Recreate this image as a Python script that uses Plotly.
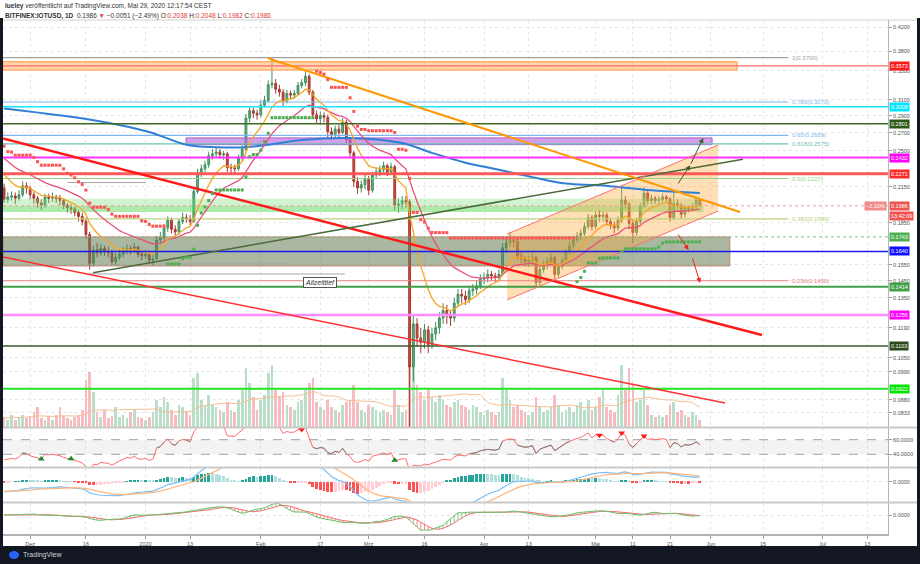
import math
import numpy as np
import pandas as pd
import plotly.graph_objects as go

# ---------------- data ----------------
START = "2019-11-24"
first_open = 0.214
last_open = 0.2038

closes = [0.204,0.206,0.207,0.205,0.208,0.216,0.214,
          0.208,0.205,0.201,0.199,0.206,0.205,0.206,
          0.205,0.203,0.199,0.197,0.196,0.193,0.190,
          0.186,0.176,0.156,0.165,0.163,0.166,0.164,
          0.163,0.157,0.160,0.162,0.164,0.166,0.165,
          0.167,0.162,0.161,0.162,0.158,0.159,0.172,
          0.174,0.181,0.187,0.180,0.178,0.186,0.189,
          0.188,0.186,0.211,0.228,0.232,0.236,0.245,
          0.247,0.249,0.246,0.247,0.233,0.233,0.232,
          0.243,0.252,0.287,0.296,0.293,0.291,0.303,
          0.309,0.330,0.332,0.324,0.320,0.308,0.318,
          0.316,0.318,0.329,0.333,0.342,0.320,0.291,
          0.286,0.290,0.288,0.271,0.268,0.274,0.270,
          0.282,0.262,0.248,0.220,0.214,0.217,0.222,
          0.212,0.226,0.229,0.231,0.235,0.229,0.234,
          0.199,0.200,0.203,0.202,0.101,0.121,0.114,
          0.112,0.118,0.111,0.116,0.119,0.124,0.128,
          0.125,0.124,0.132,0.137,0.136,0.134,0.139,
          0.140,0.142,0.146,0.147,0.149,0.148,0.147,
          0.149,0.1665,0.170,0.172,0.171,0.161,0.159,
          0.157,0.158,0.160,0.144,0.152,0.155,0.157,
          0.160,0.149,0.154,0.158,0.164,0.168,0.172,
          0.175,0.177,0.182,0.189,0.182,0.191,0.190,
          0.191,0.186,0.183,0.181,0.187,0.2035,0.200,
          0.1845,0.1775,0.186,0.1985,0.2095,0.2027,0.205,
          0.203,0.204,0.206,0.2045,0.189,0.2006,0.199,
          0.1917,0.197,0.196,0.198,0.2035,0.1986]

highs = [0.218,0.210,0.211,0.210,0.212,0.220,0.219,
         0.216,0.211,0.207,0.204,0.209,0.209,0.210,
         0.208,0.208,0.205,0.201,0.200,0.198,0.195,
         0.193,0.189,0.178,0.168,0.170,0.169,0.168,
         0.167,0.165,0.163,0.165,0.167,0.169,0.168,
         0.170,0.168,0.164,0.164,0.163,0.162,0.175,
         0.178,0.184,0.190,0.189,0.183,0.188,0.193,
         0.192,0.191,0.214,0.232,0.236,0.240,0.249,
         0.252,0.254,0.252,0.250,0.249,0.237,0.236,
         0.246,0.256,0.292,0.302,0.300,0.297,0.309,
         0.315,0.336,0.370,0.338,0.330,0.324,0.323,
         0.322,0.323,0.334,0.338,0.349,0.345,0.323,
         0.296,0.295,0.294,0.291,0.276,0.278,0.279,
         0.287,0.285,0.265,0.250,0.224,0.221,0.226,
         0.225,0.229,0.233,0.235,0.239,0.237,0.238,
         0.236,0.205,0.207,0.207,0.204,0.126,0.124,
         0.119,0.121,0.120,0.119,0.122,0.127,0.132,
         0.131,0.128,0.135,0.140,0.140,0.139,0.142,
         0.143,0.145,0.149,0.150,0.152,0.151,0.150,
         0.152,0.170,0.174,0.178,0.175,0.173,0.164,
         0.161,0.161,0.163,0.161,0.155,0.158,0.160,
         0.163,0.161,0.156,0.160,0.166,0.171,0.175,
         0.178,0.180,0.185,0.192,0.191,0.194,0.195,
         0.194,0.193,0.189,0.186,0.190,0.215,0.207,
         0.202,0.187,0.189,0.201,0.215,0.212,0.208,
         0.207,0.207,0.209,0.208,0.206,0.212,0.204,
         0.201,0.199,0.199,0.201,0.206,0.2048]

lows = [0.201,0.201,0.203,0.200,0.203,0.206,0.209,
        0.204,0.200,0.197,0.195,0.197,0.201,0.202,
        0.201,0.199,0.196,0.193,0.192,0.190,0.186,
        0.183,0.173,0.152,0.154,0.160,0.161,0.161,
        0.160,0.155,0.155,0.158,0.160,0.162,0.162,
        0.163,0.160,0.158,0.159,0.156,0.155,0.158,
        0.169,0.172,0.178,0.177,0.174,0.176,0.184,
        0.185,0.183,0.185,0.209,0.224,0.229,0.233,
        0.241,0.244,0.242,0.241,0.229,0.228,0.227,
        0.230,0.240,0.250,0.282,0.287,0.285,0.288,
        0.300,0.306,0.325,0.318,0.314,0.302,0.305,
        0.310,0.311,0.315,0.325,0.328,0.316,0.286,
        0.280,0.281,0.282,0.265,0.262,0.264,0.265,
        0.268,0.258,0.244,0.215,0.209,0.210,0.213,
        0.208,0.210,0.222,0.225,0.227,0.225,0.226,
        0.195,0.193,0.196,0.197,0.0785,0.095,0.110,
        0.107,0.109,0.107,0.109,0.113,0.116,0.121,
        0.121,0.120,0.122,0.130,0.132,0.131,0.132,
        0.136,0.137,0.140,0.143,0.144,0.145,0.144,
        0.145,0.148,0.163,0.167,0.167,0.158,0.156,
        0.154,0.154,0.155,0.141,0.142,0.150,0.152,
        0.155,0.146,0.147,0.152,0.156,0.162,0.166,
        0.170,0.172,0.175,0.180,0.179,0.180,0.186,
        0.186,0.183,0.180,0.177,0.179,0.185,0.196,
        0.180,0.170,0.175,0.184,0.197,0.200,0.200,
        0.200,0.200,0.201,0.201,0.186,0.187,0.196,
        0.188,0.189,0.193,0.194,0.196,0.1982]

volumes = [4,3,5,3,4,5,3.5,
           4.5,6,8,3.5,3,4.5,3,
           5,8,4.5,3.5,3,4,5,
           7,19,22.5,14,6,4,7,
           3.5,4.5,8,4,5,3.5,6,
           7,4,3.5,3,4,6,11,
           8,12,10,7,5,9,8,
           6,5,20,22,11,9,13,
           9,8,7,6,10,7,6,
           11,15,24,18,12,7,11,
           13,22,25,15,12,14,9,
           8,7,10,11,15,18,20,
           10,8,7,11,8,7,6,
           9,10,11,17,10,7,6,
           9,8,7,6,7,6,5,
           15,9,6,7,40,35,17,
           14,11,15,12,10,13,11,
           9,8,10,11,9,8,7,
           9,8,6,5,7,6,5,
           6,20,15,11,8,9,7,
           6,5,6,12,8,6,7,
           8,13,9,6,7,8,6,
           9,10,7,11,7,8,12,
           16,8,7,6,13,25,15,
           24,18,10,11,15,9,5,
           4,5,4,5,9,10,6,
           7,5,4,6,5,3]

# long moving average (blue)
ma_blue_dates = ["2019-11-24","2019-12-20","2020-01-02","2020-01-12","2020-01-20","2020-01-28",
                 "2020-02-03","2020-02-12","2020-02-25","2020-03-10","2020-03-18","2020-03-27",
                 "2020-04-05","2020-04-14","2020-04-23","2020-05-02","2020-05-16","2020-05-29"]
ma_blue_vals = [0.2987,0.283,0.2707,0.2566,0.2539,0.2539,
                0.2566,0.2617,0.264,0.2585,0.248,0.238,
                0.231,0.224,0.218,0.2165,0.212,0.2096]

ema_fast_len, ema_fast_seed = 9, 0.232
ema_slow_len, ema_slow_seed = 21, 0.246
macd_seeds = (0.2125, 0.2222, -0.0085)
rsi_seeds = (0.0025, 0.0045)
st_atr_seed = 0.015

# axes
X_START, X_END = "2019-11-23 17:00", "2020-07-18 14:00"
P_MIN, P_MAX = 0.0785, 0.4331
tick_dates = ["2019-12-01","2019-12-16","2020-01-01","2020-01-13","2020-02-01","2020-02-17",
              "2020-03-01","2020-03-16","2020-04-01","2020-04-13","2020-05-01","2020-05-11",
              "2020-05-21","2020-06-01","2020-06-15","2020-07-01","2020-07-13"]
tick_labels = ["Dez","16","2020","13","Feb","17","Mrz","16","Apr","13","Mai","11","21","Jun","15","Jul","13"]
price_ticks = [0.42,0.38,0.35,0.31,0.29,0.27,0.25,0.215,0.185,0.155,0.145,0.135,0.119,0.105,0.099,0.088,0.0833,0.0784]

# horizontal levels with axis labels
level_prices = [0.3573,0.3008,0.2801,0.2432,0.2271,0.1743,0.1640,0.1414,0.1256,0.1103,0.0922]
level_colors = ['#ff6a6a','#19e6ff','#3d6b25','#ff33ff','#ff5a5a','#7cc47f','#1a1aee','#3f9e48','#ff8cff','#3a5a28','#22e622']
level_widths = [1.2,1.5,1.5,2,3,1,1.5,2,2.5,1.5,2]
level_dash = ['solid','solid','solid','solid','solid','dot','solid','solid','solid','solid','solid']
level_label_bg = ['#ff1a1a','#00e5ff','#2e5a17','#ff00ff','#ff2b2b','#4caf50','#0d0dff','#43a047','#ff00ff','#2a4a1a','#00e600']

# fibonacci retracement
fib_ratios = ["1","0.786","0.65","0.618","0.5","0.382","0.236"]
fib_prices = [0.37,0.307,0.2669,0.2575,0.2227,0.188,0.145]
fib_colors = ['#a0a0a0','#7db8ee','#7db8ee','#6cc2b5','#95d28d','#b9d47e','#ea8080']
FIB_END, FIB_LABEL_X = "2020-06-21 19:00", "2020-06-22 07:00"

# zones (start date, end date, low, high)
zone_orange = ("2019-11-23 17:00","2020-06-08",0.3511,0.3636)
zone_purple = ("2020-01-11 22:00","2020-06-01 07:00",0.2567,0.2641)
zone_green_a = ("2019-11-23 17:00","2020-05-29 22:00",0.1985,0.2045)
zone_green_b = ("2019-11-23 17:00","2020-05-29 22:00",0.1935,0.1985)
zone_grey = ("2019-11-23 17:00","2020-06-06 02:00",0.1543,0.1743)

# trendlines (date, price) pairs
tl_red_thick = (["2019-11-23 17:00","2020-06-14 17:00"],[0.2634,0.1155])
tl_red_thin = (["2019-11-23 17:00","2020-06-04 19:00"],[0.1602,0.0868])
tl_olive = (["2019-12-17 22:00","2020-06-09 14:00"],[0.1500,0.2415])
tl_orange = (["2020-02-02 22:00","2020-06-08 19:00"],[0.3688,0.1935])
chan_dates = ["2020-04-07 05:00","2020-06-02 22:00"]
chan_upper = [0.1764,0.2563]
chan_lower = [0.1338,0.1943]
grey_marks = [(["2019-12-16","2020-02-23 14:00"],0.1492),
              (["2020-01-05","2020-02-09"],0.1558),
              (["2019-12-11","2020-01-01"],0.219)]

arrows_green = [("2020-05-22 22:00",0.2167,"2020-05-26 10:00",0.2355),
                ("2020-05-26 10:00",0.2355,"2020-05-29 22:00",0.2640)]
arrows_red = [("2020-05-22 22:00",0.1772,"2020-05-26 00:00",0.1650),
              ("2020-05-26 22:00",0.1603,"2020-05-29 02:00",0.1437)]

rsi_up_signals = [10,18,105]
rsi_down_signals = [80,160,166,172]

# ---------------- computations ----------------
N = len(closes)
assert len(highs) == N and len(lows) == N and len(volumes) == N
dates = pd.date_range(START, periods=N, freq="D")
opens = [first_open] + closes[:-1]
opens[-1] = last_open
c = np.array(closes)

def ema(vals, n, seed):
    a = 2.0 / (n + 1)
    out, e = [], seed
    for v in vals:
        e = e + a * (v - e)
        out.append(e)
    return np.array(out)

def sma(x, n):
    return np.array([np.mean(x[max(0, i - n + 1):i + 1]) for i in range(len(x))])

ema_fast = ema(closes, ema_fast_len, ema_fast_seed)
ema_slow = ema(closes, ema_slow_len, ema_slow_seed)

# RSI (Wilder)
ag, al = rsi_seeds
rsi = []
prev = first_open
for v in closes:
    ch = v - prev
    ag = (ag * 13 + max(ch, 0)) / 14
    al = (al * 13 + max(-ch, 0)) / 14
    rsi.append(100 - 100 / (1 + ag / al))
    prev = v
rsi = np.array(rsi)

# MACD
e12 = ema(closes, 12, macd_seeds[0])
e26 = ema(closes, 26, macd_seeds[1])
macd = e12 - e26
sig = ema(macd, 9, macd_seeds[2])
hist = macd - sig

# momentum oscillator (price units) with signal
mom = np.array([c[i] - c[max(0, i - 10)] for i in range(N)])
osc = sma(mom, 4)
osc_sig = sma(osc, 6)

# SuperTrend (10, 3)
atr = st_atr_seed
prev_c = first_open
up_p = dn_p = None
trend = -1
st_g_x, st_g_y, st_r_x, st_r_y = [], [], [], []
for i in range(N):
    tr = max(highs[i] - lows[i], abs(highs[i] - prev_c), abs(lows[i] - prev_c))
    atr = (atr * 9 + tr) / 10
    hl2 = (highs[i] + lows[i]) / 2
    up = hl2 - 3 * atr
    dn = hl2 + 3 * atr
    if up_p is not None:
        up = max(up, up_p) if prev_c > up_p else up
        dn = min(dn, dn_p) if prev_c < dn_p else dn
        if trend == -1 and closes[i] > dn_p:
            trend = 1
        elif trend == 1 and closes[i] < up_p:
            trend = -1
    if trend == 1:
        st_g_x.append(dates[i]); st_g_y.append(up)
    else:
        st_r_x.append(dates[i]); st_r_y.append(dn)
    up_p, dn_p, prev_c = up, dn, closes[i]

vol_ma = sma(np.array(volumes, dtype=float), 20)

# ---------------- figure ----------------
PX_L, PX_R, PX_T, PX_B = 3, 888, 20, 534
def fx(px): return (px - PX_L) / (PX_R - PX_L)
def fy(py): return (PX_B - py) / (PX_B - PX_T)

FONT = "Liberation Sans"
fig = go.Figure()

# volume (base axis of main pane)
vcol = ['#b9dfc8' if closes[i] >= opens[i] else '#f6bcc0' for i in range(N)]
fig.add_trace(go.Bar(x=dates, y=volumes, marker=dict(color=vcol, line=dict(width=0)),
                     width=0.72 * 86400000, yaxis='y', xaxis='x'))
fig.add_trace(go.Scatter(x=dates, y=vol_ma, mode='lines', line=dict(color='#f7bf94', width=1),
                         yaxis='y', xaxis='x'))

P = dict(xaxis='x', yaxis='y5')

def hline(x0, x1, p, color, width=1, dash='solid'):
    fig.add_trace(go.Scatter(x=[x0, x1], y=[p, p], mode='lines',
                             line=dict(color=color, width=width, dash=dash), **P))

def zone(z, fill, border=None, bw=1):
    x0, x1, lo, hi = z
    fig.add_trace(go.Scatter(x=[x0, x1, x1, x0, x0], y=[lo, lo, hi, hi, lo], mode='lines',
                             fill='toself', fillcolor=fill,
                             line=dict(color=border if border else 'rgba(0,0,0,0)', width=bw), **P))

zone(zone_orange, 'rgba(255,178,102,0.55)', '#ff9a3c', 1)
zone(zone_purple, 'rgba(185,100,220,0.62)', '#a860cc', 1)
zone(zone_green_a, 'rgba(120,220,120,0.35)')
zone(zone_green_b, 'rgba(90,215,90,0.5)')
zone(zone_grey, 'rgba(100,125,85,0.55)', 'rgba(200,110,100,0.8)', 1)

# orange channel
fig.add_trace(go.Scatter(x=chan_dates + chan_dates[::-1] + chan_dates[:1],
                         y=chan_upper + chan_lower[::-1] + chan_upper[:1], mode='lines',
                         fill='toself', fillcolor='rgba(255,170,60,0.38)',
                         line=dict(color='rgba(0,0,0,0)', width=0), **P))

# fib lines
for p, col in zip(fib_prices, fib_colors):
    hline(X_START, FIB_END, p, col, 1.2)

# moving averages
fig.add_trace(go.Scatter(x=ma_blue_dates, y=ma_blue_vals, mode='lines', line=dict(color='#2f7fd6', width=2, shape='spline'), **P))
fig.add_trace(go.Scatter(x=dates, y=ema_slow, mode='lines', line=dict(color='#e8507a', width=1.3), **P))
fig.add_trace(go.Scatter(x=dates, y=ema_fast, mode='lines', line=dict(color='#f5a623', width=1.3), **P))

# candles
fig.add_trace(go.Candlestick(x=dates, open=opens, high=highs, low=lows, close=closes,
                             increasing=dict(line=dict(color='#3f8f5c', width=1), fillcolor='#62ad7c'),
                             decreasing=dict(line=dict(color='#a8372f', width=1), fillcolor='#c94a42'),
                             whiskerwidth=0, **P))

# horizontal levels
for p, col, w, d in zip(level_prices, level_colors, level_widths, level_dash):
    hline(X_START, X_END, p, col, w, d)
hline(X_START, X_END, closes[-1], '#f19a9a', 1, 'dot')
for xs, p in grey_marks:
    hline(xs[0], xs[1], p, '#a8a8a8', 1)

# trendlines
fig.add_trace(go.Scatter(x=tl_red_thin[0], y=tl_red_thin[1], mode='lines', line=dict(color='#ff3030', width=1.5), **P))
fig.add_trace(go.Scatter(x=tl_red_thick[0], y=tl_red_thick[1], mode='lines', line=dict(color='#ff1a1a', width=2.5), **P))
fig.add_trace(go.Scatter(x=tl_olive[0], y=tl_olive[1], mode='lines', line=dict(color='#4d6b3a', width=1.5), **P))
fig.add_trace(go.Scatter(x=tl_orange[0], y=tl_orange[1], mode='lines', line=dict(color='#ff9800', width=2), **P))
fig.add_trace(go.Scatter(x=chan_dates, y=chan_upper, mode='lines', line=dict(color='#ff7070', width=1), **P))
fig.add_trace(go.Scatter(x=chan_dates, y=chan_lower, mode='lines', line=dict(color='#ff7070', width=1), **P))

# supertrend dots
fig.add_trace(go.Scatter(x=st_r_x, y=st_r_y, mode='markers', marker=dict(color='#ff5252', size=3, symbol='square'), **P))
fig.add_trace(go.Scatter(x=st_g_x, y=st_g_y, mode='markers', marker=dict(color='#4caf50', size=3, symbol='square'), **P))

# ---- RSI pane
R = dict(xaxis='x', yaxis='y2')
fig.add_trace(go.Scatter(x=[X_START, X_END], y=[60, 60], mode='lines', line=dict(color='#a0a0a0', width=1, dash='dash'), **R))
fig.add_trace(go.Scatter(x=[X_START, X_END], y=[40, 40], mode='lines', line=dict(color='#a0a0a0', width=1, dash='dash'),
                         fill='tonexty', fillcolor='rgba(160,160,160,0.12)', **R))
fig.add_trace(go.Scatter(x=dates, y=rsi, mode='lines', line=dict(color='#ff6b6b', width=1), **R))
gs = []
for i, v in enumerate(rsi):
    ok = (40 <= v <= 60) and ((i > 0 and 40 <= rsi[i-1] <= 60) or (i < N-1 and 40 <= rsi[i+1] <= 60))
    gs.append(v if ok else None)
fig.add_trace(go.Scatter(x=dates, y=gs, mode='lines', line=dict(color='#808080', width=1), connectgaps=False, **R))
fig.add_trace(go.Scatter(x=[dates[i] for i in rsi_up_signals], y=[min(rsi[i], 74) for i in rsi_up_signals],
                         mode='markers', marker=dict(symbol='triangle-up', size=6, color='#1b8a2a'), **R))
fig.add_trace(go.Scatter(x=[dates[i] for i in rsi_down_signals], y=[min(rsi[i], 74) for i in rsi_down_signals],
                         mode='markers', marker=dict(symbol='triangle-down', size=6, color='#ff1a1a'), **R))

# ---- MACD pane
M = dict(xaxis='x', yaxis='y3')
hcol = []
for i, h in enumerate(hist):
    ph = hist[i-1] if i > 0 else h
    if h >= 0:
        hcol.append('#26a69a' if h >= ph else '#b2dfdb')
    else:
        hcol.append('#ff5252' if h <= ph else '#ffcdd2')
fig.add_trace(go.Bar(x=dates, y=hist, marker=dict(color=hcol, line=dict(width=0)), width=0.75 * 86400000, **M))
fig.add_trace(go.Scatter(x=dates, y=macd, mode='lines', line=dict(color='#7cc0f5', width=1.2), **M))
fig.add_trace(go.Scatter(x=dates, y=sig, mode='lines', line=dict(color='#ffb47a', width=1.2), **M))
hs = max(hist[55:95]) / 8.4
macd_range = [-20.3 * hs, 13.7 * hs]

# ---- oscillator pane (hatched between line and signal)
K = dict(xaxis='x', yaxis='y4')
gx, gy, rx, ry = [], [], [], []
for i in range(N):
    if osc[i] >= osc_sig[i]:
        gx += [dates[i], dates[i], None]; gy += [osc_sig[i], osc[i], None]
    else:
        rx += [dates[i], dates[i], None]; ry += [osc[i], osc_sig[i], None]
fig.add_trace(go.Scatter(x=gx, y=gy, mode='lines', line=dict(color='#7fcf8c', width=1), **K))
fig.add_trace(go.Scatter(x=rx, y=ry, mode='lines', line=dict(color='#f48a8a', width=1), **K))
fig.add_trace(go.Scatter(x=dates, y=osc_sig, mode='lines', line=dict(color='#f47070', width=1), **K))
fig.add_trace(go.Scatter(x=dates, y=osc, mode='lines', line=dict(color='#6cbf6c', width=1), **K))
ks = max(osc[55:95]) / 11.5
osc_range = [-19 * ks, 12 * ks]

# ---------------- layout ----------------
def tfmt(v):
    return f"{v:.4f}"

grid = dict(showgrid=True, gridcolor='#e6e6e6', griddash='dot', gridwidth=1)
yax_common = dict(side='right', anchor='x', showline=True, linecolor='#b4b4b4', linewidth=1,
                  ticks='outside', ticklen=3, tickcolor='#9a9a9a', zeroline=False,
                  tickfont=dict(size=5.5, color='#505050', family=FONT), fixedrange=True)

fig.update_layout(
    width=920, height=564, margin=dict(l=PX_L, r=920 - PX_R, t=PX_T, b=564 - PX_B),
    paper_bgcolor='white', plot_bgcolor='white', showlegend=False, hovermode=False,
    font=dict(family=FONT),
    bargap=0,
    xaxis=dict(type='date', range=[X_START, X_END], anchor='y4', domain=[0, 1],
               tickvals=tick_dates, ticktext=tick_labels, ticks='outside', ticklen=3, tickcolor='#9a9a9a',
               showline=True, linecolor='#b4b4b4', linewidth=2,
               tickfont=dict(size=5.5, color='#505050', family=FONT),
               rangeslider=dict(visible=False), **grid),
    yaxis=dict(domain=[fy(427), 1], range=[0, 165], visible=False, fixedrange=True),
    yaxis5=dict(overlaying='y', type='log', range=[math.log10(P_MIN), math.log10(P_MAX)],
                tickvals=price_ticks, ticktext=[tfmt(v) for v in price_ticks], **grid, **yax_common),
    yaxis2=dict(domain=[fy(467), fy(428)], range=[22.6, 76.0], tickvals=[40, 60],
                ticktext=['40.0000', '60.0000'], showgrid=False, **yax_common),
    yaxis3=dict(domain=[fy(502), fy(468)], range=macd_range, tickvals=[0], ticktext=['0.0000'], **grid, **yax_common),
    yaxis4=dict(domain=[0, fy(503)], range=osc_range, tickvals=[0], ticktext=['0.0000'], **grid, **yax_common),
)

shapes = []
for py in (427.5, 467.5, 502.5):
    shapes.append(dict(type='line', xref='paper', yref='paper', x0=0, x1=fx(917), y0=fy(py), y1=fy(py),
                       line=dict(color='#c9c9c9', width=2)))
shapes.append(dict(type='line', xref='paper', yref='paper', x0=0, x1=fx(917), y0=1, y1=1,
                   line=dict(color='#d0d0d0', width=1)))
shapes.append(dict(type='rect', xref='paper', yref='paper', x0=fx(0), x1=fx(920), y0=fy(546), y1=fy(565),
                   fillcolor='#131722', line=dict(width=0), layer='above'))
shapes.append(dict(type='rect', xref='paper', yref='paper', x0=fx(0), x1=fx(3), y0=fy(565), y1=fy(18),
                   fillcolor='#131722', line=dict(width=0), layer='above'))
shapes.append(dict(type='rect', xref='paper', yref='paper', x0=fx(917), x1=fx(921), y0=fy(565), y1=fy(18),
                   fillcolor='#131722', line=dict(width=0), layer='above'))
shapes.append(dict(type='circle', xref='paper', yref='paper', x0=fx(9), x1=fx(19), y0=fy(559), y1=fy(551),
                   fillcolor='#2962ff', line=dict(width=0), layer='above'))
fig.update_layout(shapes=shapes)

ann = []
def axis_label(p, text, bg, fg='white'):
    ann.append(dict(xref='paper', yref='y5', x=1, y=math.log10(p), xanchor='left', yanchor='middle',
                    xshift=1, text=text, showarrow=False, bgcolor=bg, borderpad=1,
                    font=dict(size=5.5, color=fg, family=FONT)))
for p, bg in zip(level_prices, level_label_bg):
    axis_label(p, tfmt(p), bg)
axis_label(closes[-1], tfmt(closes[-1]), '#ef5350')
ann.append(dict(xref='paper', yref='y5', x=1, y=math.log10(closes[-1]), xanchor='right', yanchor='middle',
                xshift=-1, text='−2.10%', showarrow=False, bgcolor='#f08c8c', borderpad=1,
                font=dict(size=5.5, color='white', family=FONT)))
ann.append(dict(xref='paper', yref='y5', x=1, y=math.log10(closes[-1]), xanchor='left', yanchor='top',
                xshift=1, yshift=-5, text='13:42:09', showarrow=False, bgcolor='#ef5350', borderpad=1,
                font=dict(size=5.5, color='white', family=FONT)))
for r, p, col in zip(fib_ratios, fib_prices, fib_colors):
    ann.append(dict(xref='x', yref='y5', x=FIB_LABEL_X, y=math.log10(p), xanchor='left', yanchor='middle',
                    text=f"{r}({p:.4f})", showarrow=False, font=dict(size=6, color=col, family=FONT)))
ann.append(dict(xref='x', yref='y5', x="2020-02-16 22:00", y=math.log10(0.1442), text='<i>Allzeittief</i>',
                showarrow=False, bgcolor='white', bordercolor='#555', borderwidth=1, borderpad=1,
                font=dict(size=7, color='#333', family=FONT)))
for x0, p0, x1, p1 in arrows_green:
    ann.append(dict(xref='x', yref='y5', axref='x', ayref='y5', x=x1, y=math.log10(p1), ax=x0, ay=math.log10(p0),
                    text='', showarrow=True, arrowhead=2, arrowsize=1, arrowwidth=1, arrowcolor='#3d5a2a'))
for x0, p0, x1, p1 in arrows_red:
    ann.append(dict(xref='x', yref='y5', axref='x', ayref='y5', x=x1, y=math.log10(p1), ax=x0, ay=math.log10(p0),
                    text='', showarrow=True, arrowhead=2, arrowsize=1, arrowwidth=1, arrowcolor='#f02020'))
ann.append(dict(xref='paper', yref='paper', x=0, y=fy(6), xanchor='left', yanchor='middle', showarrow=False,
                text='<b>lueley</b> veröffentlicht auf TradingView.com, Mai 29, 2020 12:17:54 CEST',
                font=dict(size=6.5, color='#333', family=FONT)))
red = '#e53935'
ann.append(dict(xref='paper', yref='paper', x=0, y=fy(15.5), xanchor='left', yanchor='middle', showarrow=False,
                text=(f"<b>BITFINEX:IOTUSD, 1D</b>  0.1986 <span style='color:{red}'>▼</span> −0.0051 (−2.49%) "
                      f"O:<span style='color:{red}'>0.2038</span> H:<span style='color:{red}'>0.2048</span> "
                      f"L:<span style='color:{red}'>0.1982</span> C:<span style='color:{red}'>0.1986</span>"),
                font=dict(size=6.5, color='#333', family=FONT)))
ann.append(dict(xref='paper', yref='paper', x=fx(21), y=fy(555), xanchor='left', yanchor='middle', showarrow=False,
                text='TradingView', font=dict(size=7, color='#d1d4dc', family=FONT)))
fig.update_layout(annotations=ann)

fig.write_html("out.html")
